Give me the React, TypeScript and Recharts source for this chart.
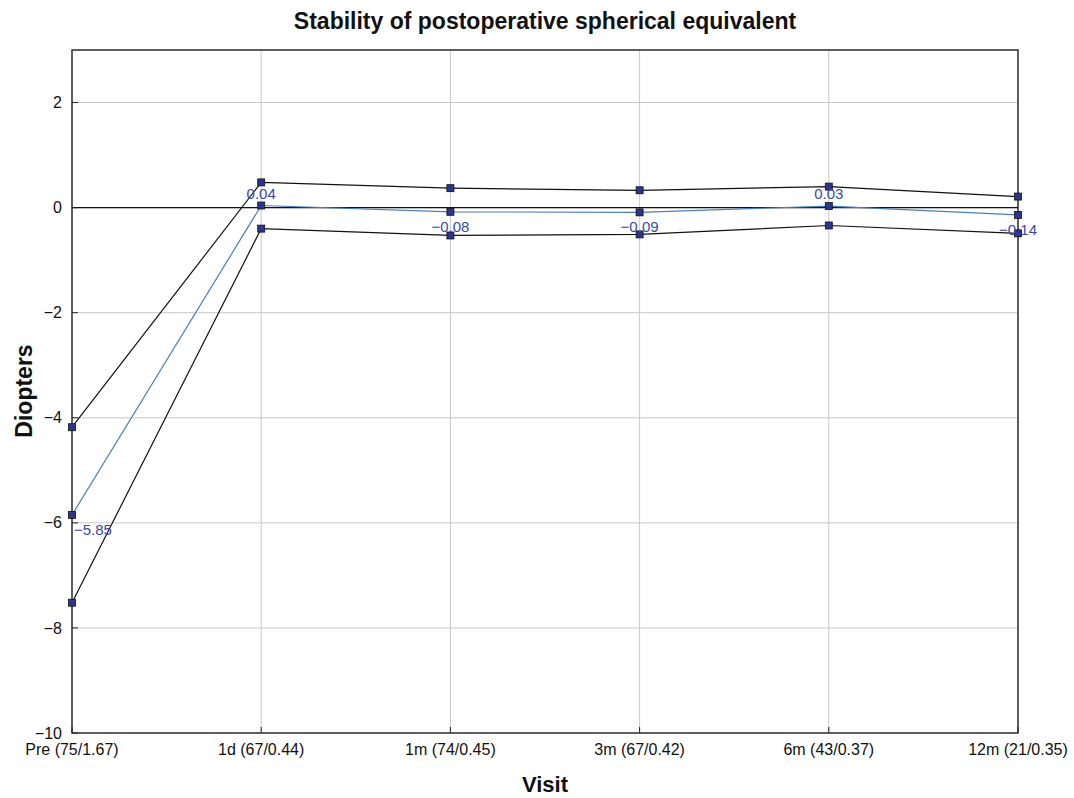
import { LineChart, Line, XAxis, YAxis, CartesianGrid, ReferenceLine, ReferenceArea, LabelList } from 'recharts';

const visits = ['Pre (75/1.67)', '1d (67/0.44)', '1m (74/0.45)', '3m (67/0.42)', '6m (43/0.37)', '12m (21/0.35)'];
const meanSE = [-5.85, 0.04, -0.08, -0.09, 0.03, -0.14];
const upperSE = [-4.18, 0.48, 0.37, 0.33, 0.4, 0.21];
const lowerSE = [-7.52, -0.4, -0.53, -0.51, -0.34, -0.49];
const yTicks = [-10, -8, -6, -4, -2, 0, 2];

const data = visits.map((visit, i) => ({
  visit,
  mean: meanSE[i],
  upper: upperSE[i],
  lower: lowerSE[i],
}));

const FONT = '"Liberation Sans", Arial, Helvetica, sans-serif';
const minus = (v: number | string) => String(v).replace('-', '\u2212');

const SquareDot = (props: any) => {
  const { cx, cy } = props;
  if (cx == null || cy == null) return null;
  return <rect x={cx - 3.5} y={cy - 3.5} width={7} height={7} fill="#2b3590" stroke="#111" strokeWidth={0.8} />;
};

const YTick = ({ x, y, payload }: any) => (
  <g>
    <line x1={x + 10} x2={x + 16} y1={y} y2={y} stroke="#222" />
    <text x={x} y={y} dy="0.35em" textAnchor="end" fontSize={16} fill="#111" fontFamily={FONT}>
      {minus(payload.value)}
    </text>
  </g>
);

const XTick = ({ x, y, payload }: any) => (
  <g>
    <line x1={x} x2={x} y1={y - 9} y2={y - 15} stroke="#222" />
    <text x={x} y={y} dy="0.8em" textAnchor="middle" fontSize={16} fill="#111" fontFamily={FONT}>
      {payload.value}
    </text>
  </g>
);

const MeanLabel = (props: any) => {
  const { x, y, value, index } = props;
  const above = value >= 0;
  return (
    <text
      x={index === 0 ? x + 2 : x}
      y={above ? y - 7 : y + 20}
      textAnchor={index === 0 ? 'start' : 'middle'}
      fontSize={15}
      fill="#3a48ad"
      fontFamily={FONT}
    >
      {minus(value.toFixed(2))}
    </text>
  );
};

export default function App() {
  return (
    <div style={{ position: 'absolute', left: 0, top: 0, width: 1074, height: 798, background: '#fff', fontFamily: FONT }}>
      <LineChart width={1074} height={798} data={data} margin={{ top: 50, right: 56, bottom: 0, left: 0 }}>
        <CartesianGrid stroke="#c8c8c8" strokeWidth={1} />
        <XAxis dataKey="visit" height={65} tickSize={0} tickMargin={9} axisLine={false} tick={<XTick />} interval={0} />
        <YAxis
          type="number"
          domain={[-10, 3]}
          ticks={yTicks}
          width={72}
          tickSize={0}
          tickMargin={10}
          axisLine={false}
          tick={<YTick />}
          allowDataOverflow
        />
        <ReferenceArea x1={visits[0]} x2={visits[visits.length - 1]} y1={-10} y2={3} fill="none" stroke="#333" strokeWidth={1.5} />
        <ReferenceLine y={0} stroke="#111" strokeWidth={1.2} />
        <Line type="linear" dataKey="upper" stroke="#111" strokeWidth={1.2} dot={<SquareDot />} isAnimationActive={false} />
        <Line type="linear" dataKey="lower" stroke="#111" strokeWidth={1.2} dot={<SquareDot />} isAnimationActive={false} />
        <Line type="linear" dataKey="mean" stroke="#4a7fb8" strokeWidth={1.2} dot={<SquareDot />} isAnimationActive={false}>
          <LabelList dataKey="mean" content={<MeanLabel />} />
        </Line>
      </LineChart>
      <svg width={1074} height={798} style={{ position: 'absolute', left: 0, top: 0, pointerEvents: 'none' }}>
        <text x={545} y={29} textAnchor="middle" fontSize={23} fontWeight="bold" fill="#111" fontFamily={FONT}>
          Stability of postoperative spherical equivalent
        </text>
        <text x={545} y={792} textAnchor="middle" fontSize={22} fontWeight="bold" fill="#111" fontFamily={FONT}>
          Visit
        </text>
        <text x={0} y={0} transform="translate(32 391) rotate(-90)" textAnchor="middle" fontSize={23} fontWeight="bold" fill="#111" fontFamily={FONT}>
          Diopters
        </text>
      </svg>
    </div>
  );
}
